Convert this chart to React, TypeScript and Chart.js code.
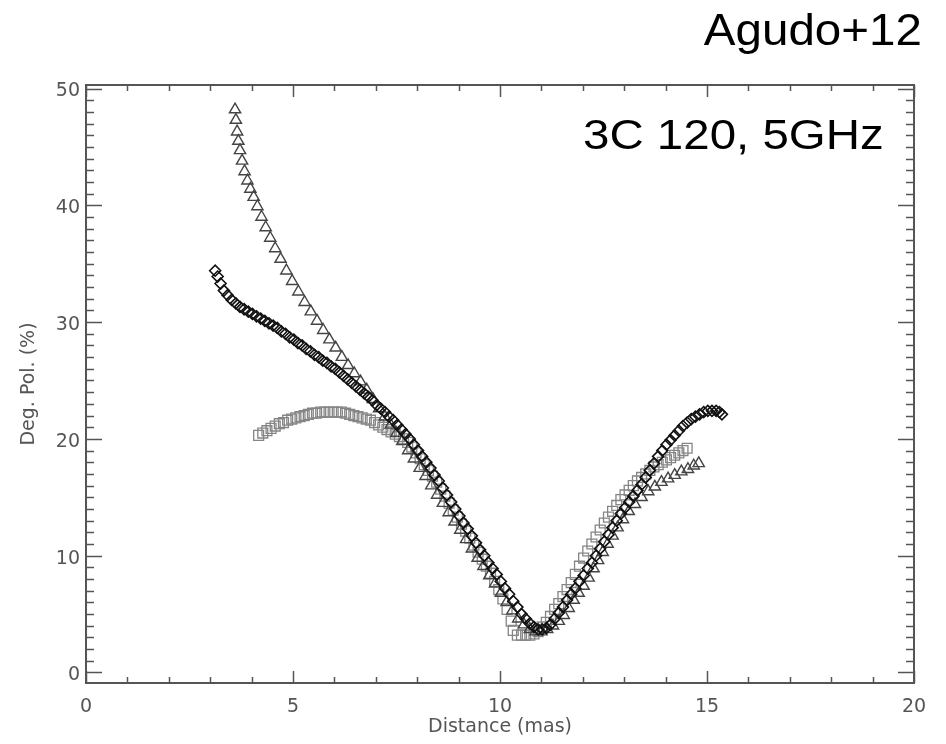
import React, { useEffect, useRef } from "react";
import { Chart, registerables } from "chart.js";

Chart.register(...registerables);

// Triangles series (Distance in mas, Deg. Pol. in %)
const triX = [3.60,3.62,3.65,3.68,3.72,3.77,3.83,3.90,3.97,4.05,4.14,4.24,4.34,4.45,4.57,4.70,4.84,4.98,5.13,5.28,5.43,5.58,5.73,5.88,6.03,6.18,6.33,6.48,6.63,6.78,6.93,7.08,7.22,7.36,7.50,7.64,7.78,7.92,8.06,8.20,8.34,8.48,8.62,8.76,8.90,9.04,9.18,9.32,9.46,9.60,9.74,9.88,10.02,10.16,10.30,10.44,10.58,10.72,10.86,11.00,11.14,11.28,11.42,11.54,11.66,11.78,11.90,12.02,12.14,12.26,12.37,12.48,12.60,12.72,12.84,12.97,13.11,13.26,13.42,13.58,13.74,13.90,14.06,14.22,14.38,14.54,14.68,14.80];
const triY = [48.2,47.3,46.3,45.5,44.7,43.8,42.9,42.1,41.4,40.7,39.9,39.0,38.1,37.2,36.3,35.4,34.4,33.5,32.6,31.7,30.9,30.1,29.3,28.5,27.8,27.0,26.3,25.6,24.9,24.2,23.4,22.6,21.9,21.2,20.5,19.8,19.0,18.3,17.5,16.8,16.0,15.2,14.5,13.7,12.9,12.2,11.4,10.6,9.8,9.1,8.3,7.6,6.8,6.0,5.3,4.6,4.1,3.7,3.5,3.5,3.7,4.0,4.4,4.9,5.5,6.2,6.8,7.4,8.1,8.9,9.6,10.3,11.0,11.7,12.4,13.1,13.8,14.4,15.0,15.5,15.9,16.3,16.6,16.9,17.2,17.4,17.7,17.9];

// Diamonds series
const diaX = [3.12,3.18,3.25,3.33,3.42,3.52,3.62,3.72,3.82,3.92,4.02,4.12,4.22,4.32,4.42,4.52,4.62,4.72,4.82,4.92,5.02,5.12,5.22,5.32,5.42,5.52,5.62,5.72,5.82,5.92,6.02,6.12,6.22,6.32,6.42,6.52,6.62,6.72,6.82,6.92,7.02,7.12,7.22,7.32,7.42,7.52,7.62,7.72,7.82,7.92,8.02,8.12,8.22,8.32,8.42,8.52,8.62,8.72,8.82,8.92,9.02,9.12,9.22,9.32,9.42,9.52,9.62,9.72,9.82,9.92,10.02,10.12,10.22,10.32,10.42,10.52,10.62,10.72,10.82,10.92,11.02,11.12,11.22,11.32,11.42,11.52,11.62,11.72,11.82,11.92,12.02,12.12,12.22,12.32,12.42,12.52,12.62,12.72,12.82,12.92,13.02,13.12,13.22,13.32,13.42,13.52,13.62,13.72,13.82,13.92,14.02,14.12,14.22,14.32,14.42,14.52,14.62,14.72,14.82,14.92,15.02,15.12,15.22,15.30,15.36];
const diaY = [34.4,33.9,33.3,32.7,32.3,31.9,31.6,31.3,31.1,30.9,30.7,30.5,30.3,30.1,29.9,29.7,29.5,29.2,29.0,28.7,28.5,28.2,28.0,27.7,27.5,27.2,27.0,26.7,26.5,26.2,26.0,25.7,25.4,25.1,24.8,24.5,24.2,23.9,23.6,23.3,22.9,22.6,22.3,21.9,21.6,21.2,20.8,20.4,20.0,19.5,19.0,18.5,18.0,17.5,16.9,16.4,15.8,15.2,14.6,14.0,13.4,12.8,12.3,11.7,11.1,10.5,10.0,9.4,8.9,8.4,7.8,7.2,6.7,6.1,5.6,5.0,4.6,4.2,3.9,3.7,3.7,3.8,4.1,4.6,5.1,5.6,6.2,6.7,7.2,7.8,8.3,8.9,9.4,10.0,10.6,11.2,11.8,12.4,13.0,13.6,14.1,14.6,15.1,15.6,16.1,16.7,17.3,17.9,18.5,19.0,19.5,19.9,20.3,20.7,21.1,21.4,21.7,21.9,22.1,22.3,22.4,22.4,22.4,22.3,22.1];

// Squares series
const sqX = [4.17,4.27,4.37,4.47,4.57,4.67,4.77,4.87,4.97,5.07,5.17,5.27,5.37,5.47,5.57,5.67,5.77,5.87,5.97,6.07,6.17,6.27,6.37,6.47,6.57,6.67,6.77,6.87,6.97,7.07,7.17,7.27,7.37,7.47,7.57,7.67,7.77,7.87,7.97,8.07,8.17,8.27,8.37,8.47,8.57,8.67,8.77,8.87,8.97,9.07,9.17,9.27,9.37,9.47,9.57,9.67,9.77,9.87,9.97,10.07,10.17,10.27,10.32,10.42,10.52,10.62,10.72,10.82,10.92,11.02,11.12,11.22,11.32,11.42,11.52,11.62,11.72,11.82,11.92,12.02,12.12,12.22,12.32,12.42,12.52,12.62,12.72,12.82,12.92,13.02,13.12,13.22,13.32,13.42,13.52,13.62,13.72,13.82,13.92,14.02,14.12,14.22,14.32,14.42,14.52];
const sqY = [20.3,20.5,20.7,20.9,21.1,21.3,21.4,21.6,21.7,21.8,21.9,22.0,22.1,22.2,22.2,22.3,22.3,22.3,22.3,22.3,22.3,22.2,22.1,22.0,21.9,21.8,21.7,21.6,21.4,21.2,21.0,20.8,20.6,20.4,20.2,20.0,19.7,19.3,18.8,18.3,17.8,17.3,16.8,16.3,15.7,15.1,14.5,13.9,13.3,12.7,12.1,11.5,10.9,10.3,9.7,9.1,8.5,7.8,7.1,6.3,5.4,4.4,3.6,3.2,3.2,3.2,3.2,3.3,3.5,3.9,4.3,4.8,5.4,5.9,6.5,7.1,7.7,8.4,9.1,9.8,10.4,11.0,11.6,12.2,12.8,13.3,13.8,14.3,14.8,15.2,15.6,16.0,16.4,16.7,17.0,17.3,17.6,17.8,18.0,18.2,18.4,18.6,18.8,19.0,19.2];

const X_MIN = 0;
const X_MAX = 20;
const Y_MIN = -0.9;
const Y_MAX = 50.3;
const X_STEP = 5;
const Y_STEP = 10;

const AXIS_COLOR = "#555";
const AXIS_FONT = "'DejaVu Sans', sans-serif";

const toPoints = (xs: number[], ys: number[]) => xs.map((x, i) => ({ x, y: ys[i] }));

const frameTicks = {
  id: "frameTicks",
  afterDatasetsDraw(chart: any) {
    const { ctx, chartArea, scales } = chart;
    const { left, right, top, bottom } = chartArea;
    const xs = scales.x;
    const ys = scales.y;
    ctx.save();
    ctx.strokeStyle = AXIS_COLOR;
    ctx.lineWidth = 1.5;
    ctx.beginPath();
    for (let v = X_MIN; v <= X_MAX; v++) {
      const px = Math.round(xs.getPixelForValue(v)) + 0.5;
      const len = v % X_STEP === 0 ? 12 : 6;
      ctx.moveTo(px, bottom);
      ctx.lineTo(px, bottom - len);
      ctx.moveTo(px, top);
      ctx.lineTo(px, top + len);
    }
    for (let v = 0; v <= 50; v++) {
      const py = Math.round(ys.getPixelForValue(v)) + 0.5;
      const len = v % Y_STEP === 0 ? 16 : 8;
      ctx.moveTo(left, py);
      ctx.lineTo(left + len, py);
      ctx.moveTo(right, py);
      ctx.lineTo(right - len, py);
    }
    ctx.stroke();
    ctx.lineWidth = 2;
    ctx.strokeRect(left, top, right - left, bottom - top);
    ctx.restore();
  },
};

export default function App() {
  const canvasRef = useRef<HTMLCanvasElement | null>(null);

  useEffect(() => {
    const canvas = canvasRef.current;
    if (!canvas) return;
    const chart = new Chart(canvas, {
      type: "scatter",
      data: {
        datasets: [
          {
            label: "diamonds",
            data: toPoints(diaX, diaY),
            pointStyle: "rectRot",
            pointRadius: 5.5,
            pointBorderWidth: 1.6,
            borderColor: "#111111",
            backgroundColor: "rgba(0,0,0,0)",
            showLine: false,
          },
          {
            label: "triangles",
            data: toPoints(triX, triY),
            pointStyle: "triangle",
            pointRadius: 6.5,
            pointBorderWidth: 1.4,
            borderColor: "#444444",
            backgroundColor: "rgba(0,0,0,0)",
            showLine: false,
          },
          {
            label: "squares",
            data: toPoints(sqX, sqY),
            pointStyle: "rect",
            pointRadius: 7,
            pointBorderWidth: 1.3,
            borderColor: "#858585",
            backgroundColor: "rgba(0,0,0,0)",
            showLine: false,
          },
        ],
      },
      options: {
        responsive: false,
        animation: false,
        layout: { padding: { left: 0, top: 85, right: 32, bottom: 0 } },
        plugins: { legend: { display: false }, tooltip: { enabled: false } },
        scales: {
          x: {
            type: "linear",
            min: X_MIN,
            max: X_MAX,
            grid: { display: false, drawTicks: false },
            border: { display: false },
            ticks: {
              stepSize: X_STEP,
              includeBounds: false,
              color: AXIS_COLOR,
              padding: 13,
              font: { family: AXIS_FONT, size: 19 },
              maxRotation: 0,
            },
            title: {
              display: true,
              text: "Distance (mas)",
              color: AXIS_COLOR,
              font: { family: AXIS_FONT, size: 19 },
              padding: { top: 0, bottom: 6 },
            },
            afterFit: (s: any) => {
              s.height = 61;
            },
          },
          y: {
            type: "linear",
            min: Y_MIN,
            max: Y_MAX,
            grid: { display: false, drawTicks: false },
            border: { display: false },
            ticks: {
              stepSize: Y_STEP,
              includeBounds: false,
              color: AXIS_COLOR,
              padding: 6,
              labelOffset: 3,
              font: { family: AXIS_FONT, size: 19 },
            },
            title: {
              display: true,
              text: "Deg. Pol. (%)",
              color: AXIS_COLOR,
              font: { family: AXIS_FONT, size: 19 },
              padding: { top: 18, bottom: 0 },
            },
            afterFit: (s: any) => {
              s.width = 86;
            },
          },
        },
      },
      plugins: [frameTicks],
    });
    return () => chart.destroy();
  }, []);

  return (
    <div style={{ position: "absolute", left: 0, top: 0, width: 946, height: 744, background: "#fff" }}>
      <canvas ref={canvasRef} width={946} height={744} style={{ display: "block" }} />
      <div
        style={{
          position: "absolute",
          right: 24,
          top: 8,
          fontFamily: "'Liberation Sans', Arial, sans-serif",
          fontSize: 44,
          lineHeight: 1,
          color: "#000",
          whiteSpace: "nowrap",
          transform: "scaleX(1.08)",
          transformOrigin: "right top",
        }}
      >
        Agudo+12
      </div>
      <div
        style={{
          position: "absolute",
          left: 583,
          top: 114,
          fontFamily: "'Liberation Sans', Arial, sans-serif",
          fontSize: 42,
          lineHeight: 1,
          color: "#000",
          whiteSpace: "nowrap",
          transform: "scaleX(1.13)",
          transformOrigin: "left top",
        }}
      >
        3C 120, 5GHz
      </div>
    </div>
  );
}
